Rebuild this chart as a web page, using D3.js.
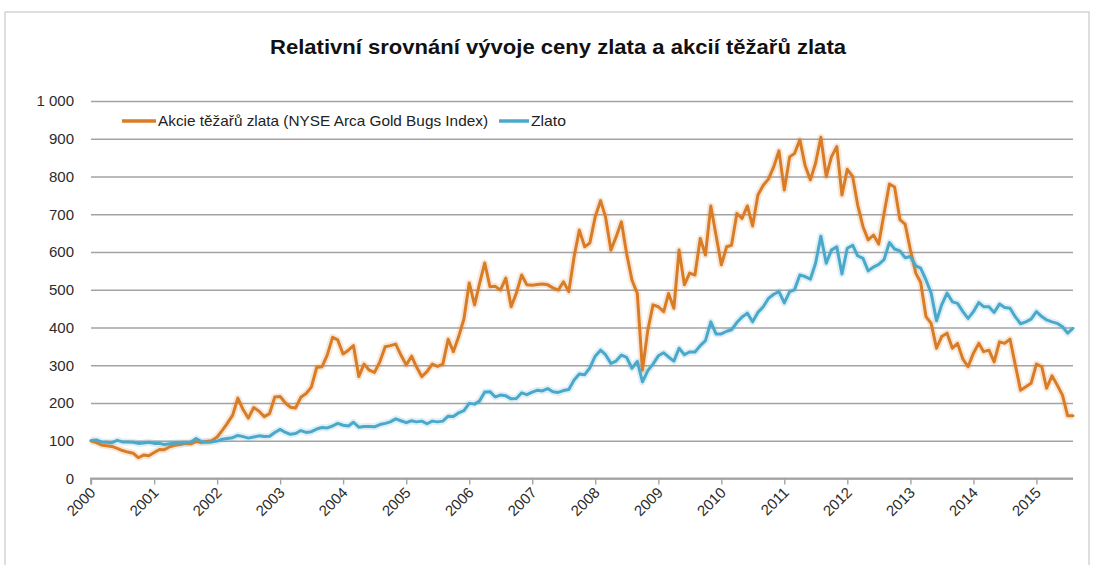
<!DOCTYPE html>
<html>
<head>
<meta charset="utf-8">
<script src="https://cdn.jsdelivr.net/npm/d3@7"></script>
<style>
  html, body { margin: 0; padding: 0; background: #fff; }
  svg { display: block; }
  text { font-family: "Liberation Sans", Arial, sans-serif; }
</style>
</head>
<body>
<svg id="chart" width="1095" height="565"></svg>
<script>
// ---- DATA (monthly, Jan 2000 = 100) ----
const titleText = "Relativní srovnání vývoje ceny zlata a akcií těžařů zlata";
const seriesNames = ["Akcie těžařů zlata (NYSE Arca Gold Bugs Index)", "Zlato"];
const startMonth = "2000-01";
const minersValues = [
  100, 95, 89, 87, 85, 80, 74, 70, 67, 55, 62, 60,
  69, 77, 76, 84, 88, 90, 93, 92, 98, 95, 98, 100,
  110, 128, 146, 168, 213, 182, 160, 188, 178, 164, 172, 216,
  217, 200, 189, 187, 215, 225, 242, 294, 296, 327, 374, 367,
  330, 340, 352, 270, 303, 287, 281, 309, 349, 352, 356, 327,
  301, 324, 296, 270, 283, 303, 297, 303, 369, 336, 376, 422,
  518, 460, 515, 571, 508, 509, 499, 531, 455, 491, 539, 513,
  512, 514, 515, 513, 505, 499, 521, 495, 588, 658, 614, 624,
  693, 736, 693, 605, 640, 680, 596, 526, 490, 287, 393, 460,
  455, 442, 490, 451, 605, 513, 544, 539, 636, 592, 722, 645,
  566, 614, 618, 702, 689, 722, 669, 751, 777, 793, 826, 868,
  764, 852, 861, 897, 830, 791, 835, 904, 800, 852, 879, 751,
  819, 800, 725, 667, 632, 645, 621, 702, 780, 772, 686, 674,
  605, 544, 520, 429, 411, 345, 376, 385, 345, 358, 316, 296,
  332, 358, 336, 340, 309, 362, 358, 369, 300, 234, 243, 252,
  303, 296, 239, 272, 248, 221, 166, 166
];
const goldValues = [
  100, 102, 97, 96, 95, 101, 97, 97, 96, 93, 94, 96,
  93, 93, 90, 92, 94, 95, 94, 96, 106, 98, 96, 97,
  99, 104, 106, 108, 114, 111, 107, 110, 113, 111, 112, 122,
  130, 122, 117, 119, 127, 122, 124, 131, 135, 134, 139, 146,
  141, 139, 149, 136, 138, 138, 137, 143, 146, 150, 158, 153,
  148, 153, 150, 152, 145, 152, 150, 152, 165, 164, 174, 180,
  199, 197, 205, 229, 230, 216, 221, 219, 211, 212, 227, 222,
  229, 234, 232, 238, 230, 228, 233, 236, 261, 277, 275, 293,
  324, 340, 328, 305, 311, 327, 321, 292, 310, 256, 286, 303,
  325, 333, 322, 311, 345, 328, 335, 335, 352, 365, 415, 383,
  383, 390, 394, 413, 428, 438, 415, 440, 455, 477, 488, 495,
  465, 495, 500, 539, 535, 528, 570, 642, 570, 605, 614, 542,
  610, 618, 590, 583, 550, 560, 567, 580, 625, 608, 603, 585,
  588, 563, 557, 526, 491, 418, 460, 491, 468, 464, 442, 424,
  442, 466, 455, 455, 440, 462, 453, 451, 428, 410, 415, 422,
  442, 429, 420, 415, 411, 402, 385, 398
];
const yTicks = [0, 100, 200, 300, 400, 500, 600, 700, 800, 900, 1000];
const xTickYears = [2000, 2001, 2002, 2003, 2004, 2005, 2006, 2007, 2008, 2009, 2010, 2011, 2012, 2013, 2014, 2015];
const colors = ["#d87c26", "#4aa8cb"];

// ---- LAYOUT ----
const svg = d3.select("#chart");
const plot = { left: 91, right: 1073, top: 101, bottom: 478.5 };

const parseMonth = d3.utcParse("%Y-%m");
const t0 = parseMonth(startMonth);
const dates = minersValues.map((_, i) => d3.utcMonth.offset(t0, i));

const x = d3.scaleUtc()
  .domain([t0, dates[dates.length - 1]])
  .range([plot.left, plot.right]);
const y = d3.scaleLinear().domain([0, 1000]).range([plot.bottom, plot.top]);

const cz = d3.formatLocale({ decimal: ",", thousands: "\u00a0", grouping: [3], currency: ["", " Kč"] });
const fmt = cz.format(",d");

// outer border
svg.append("rect")
  .attr("x", 5).attr("y", 12).attr("width", 1084).attr("height", 570)
  .attr("fill", "#fff").attr("stroke", "#d4d4d4").attr("stroke-width", 1.5);

// title
svg.append("text")
  .attr("x", 558).attr("y", 54)
  .attr("text-anchor", "middle")
  .attr("font-size", 21).attr("font-weight", "bold").attr("fill", "#111")
  .attr("textLength", 576).attr("lengthAdjust", "spacingAndGlyphs")
  .text(titleText);

// gridlines + y labels
const yAxis = d3.axisLeft(y).tickValues(yTicks)
  .tickSize(-(plot.right - plot.left)).tickPadding(17).tickFormat(d => fmt(d));
const gy = svg.append("g").attr("transform", `translate(${plot.left},0)`).call(yAxis);
gy.select(".domain").remove();
gy.selectAll(".tick line").attr("stroke", "#a3a3a3").attr("stroke-width", 1.4);
gy.selectAll(".tick text").attr("font-size", 15).attr("fill", "#2b2b2b")
  .attr("font-family", '"Liberation Sans", Arial, sans-serif');

// x axis
const xAxis = d3.axisBottom(x)
  .tickValues(xTickYears.map(yr => Date.UTC(yr, 0, 1)))
  .tickSize(6).tickFormat(d => new Date(d).getUTCFullYear());
const gx = svg.append("g").attr("transform", `translate(0,${plot.bottom})`).call(xAxis);
gx.select(".domain").attr("stroke", "#a3a3a3").attr("stroke-width", 1.8)
  .attr("d", `M${plot.left},6V0H${plot.right}`);
gx.selectAll(".tick line").attr("stroke", "#a3a3a3").attr("stroke-width", 1.4);
gx.selectAll(".tick text")
  .attr("font-size", 15).attr("fill", "#2b2b2b")
  .attr("font-family", '"Liberation Sans", Arial, sans-serif')
  .attr("text-anchor", "end")
  .attr("dy", null).attr("y", 0)
  .attr("transform", "translate(5,15) rotate(-45)");

// lines
const series = [minersValues, goldValues];
const line = d3.line().x((d, i) => x(dates[i])).y(d => y(d));
series.forEach((vals, k) => {
  svg.append("path").datum(vals)
    .attr("d", line).attr("fill", "none")
    .attr("stroke", colors[k]).attr("stroke-opacity", 0.18)
    .attr("stroke-width", 7).attr("stroke-linejoin", "round");
});
series.forEach((vals, k) => {
  svg.append("path").datum(vals)
    .attr("d", line).attr("fill", "none")
    .attr("stroke", colors[k]).attr("stroke-width", 3)
    .attr("stroke-linejoin", "round").attr("stroke-linecap", "round");
});

// legend
const lg = svg.append("g");
const legendY = 121;
const legendItems = [
  { x0: 122, x1: 156, tx: 158, tw: 330 },
  { x0: 499, x1: 529, tx: 531, tw: 35 }
];
legendItems.forEach((it, k) => {
  lg.append("line").attr("x1", it.x0).attr("x2", it.x1)
    .attr("y1", legendY).attr("y2", legendY)
    .attr("stroke", colors[k]).attr("stroke-width", 3.5);
  lg.append("text").attr("x", it.tx).attr("y", legendY + 5)
    .attr("font-size", 15).attr("fill", "#222")
    .attr("textLength", it.tw).attr("lengthAdjust", "spacingAndGlyphs")
    .text(seriesNames[k]);
});
</script>
</body>
</html>
